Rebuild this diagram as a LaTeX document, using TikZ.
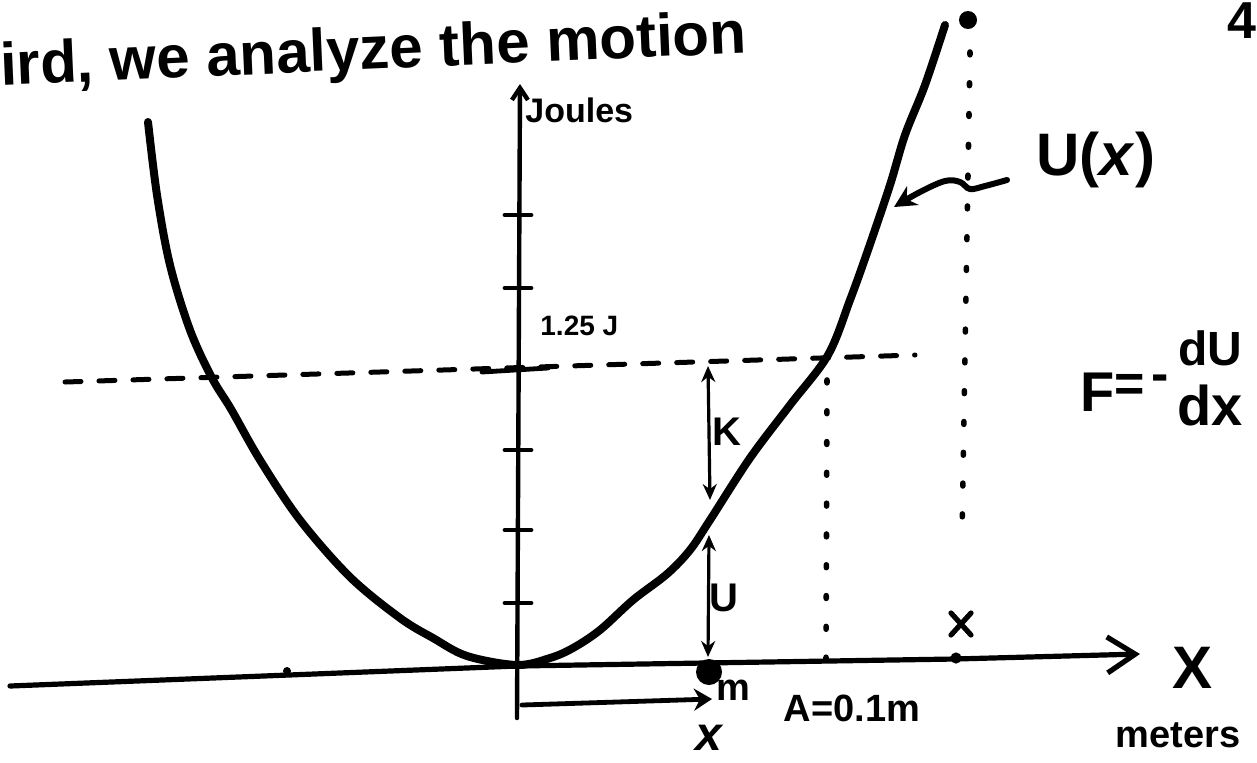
\documentclass[tikz,border=0pt]{standalone}
\usepackage{fontspec}
\setmainfont{Liberation Sans}
\usetikzlibrary{arrows.meta}
\begin{document}
\begin{tikzpicture}[x=0.5pt,y=-0.5pt,
  hand/.style={inner sep=0pt, font=\bfseries},
  fs/.style={font=\bfseries\fontsize{#1}{#1}\selectfont},
  curveline/.style={line width=4pt, line cap=round, line join=round},
  axisline/.style={line width=2.6pt, line cap=round, line join=round},
  tickline/.style={line width=2.4pt, line cap=round},
  dblarrow/.style={line width=1.6pt, {Stealth[length=8pt,width=7pt]}-{Stealth[length=8pt,width=7pt]}},
  dashline/.style={line width=2.5pt, dash pattern=on 8pt off 9pt, line cap=round},
  dotline/.style={line width=2.8pt, dash pattern=on 1.4pt off 14pt, line cap=round},
  massdot/.style={circle, fill=black, inner sep=0pt, minimum size=13pt}
]
\useasboundingbox (0,0) rectangle (1257,762);

% axes
\coordinate (hL) at (10,686);
\coordinate (O) at (517,666);
\coordinate (hM) at (955,659);
\coordinate (hR) at (1140,654);
\coordinate (vB) at (517,718);
\coordinate (vT) at (520,84);
\draw[axisline, -{Straight Barb[length=14pt,width=18pt]}] (hL) -- (O) -- (hM) -- (hR);
\draw[line width=2.2pt, line cap=round, -{Straight Barb[length=6pt,width=8pt]}] (vB) -- (vT);

% ticks
\foreach \y in {215,288,450,530,603}
  \draw[tickline] (505,\y) -- (531,\y);
\draw[tickline] (482,372) -- (548,368);

% dashed level line
\draw[dashline] (65,382) -- (915,355);

% potential curve
\draw[curveline] plot[smooth, tension=0.55] coordinates {
 (148,122) (157,195) (170,265) (190,330) (212,378) (231,409) (260,460)
 (300,520) (350,577) (400,618) (433,638) (467,656) (517,665) (550,658)
 (573,648) (600,630) (633,600) (667,574) (690,550) (710,520) (750,458)
 (790,405) (828,355) (850,300) (868,250) (890,185) (905,135) (925,85) (945,25)};

% K and U arrows
\coordinate (Ktop) at (708,366);
\coordinate (Kbot) at (710,500);
\coordinate (Utop) at (709,535);
\coordinate (Ubot) at (708,657);
\draw[dblarrow] (Kbot) -- (Ktop);
\draw[dblarrow] (Ubot) -- (Utop);
\node[hand, fs=20] (Klab) at (727,432) {K};
\node[hand, fs=20] (Ulab) at (724,598) {U};

% mass
\node[massdot] (mass) at (709,672) {};
\node[hand, fs=19] (mlab) at (733,690) {m};

% x arrow
\coordinate (xs) at (522,705);
\coordinate (xe) at (712,699);
\draw[line width=2.4pt, line cap=round, -{Stealth[length=9pt,width=11pt]}] (xs) -- (xe);
\node[hand, fs=24] (xlab) at (710,738) {\textit{x}};

% amplitude dotted line
\draw[dotline] (827,380) -- (826,660);
\node[hand, fs=19] (Alab) at (852,708) {A=0.1m};

% right dotted line
\fill (968,20) circle[radius=4.5pt];
\draw[dotline] (970,52) -- (962,535);

% cross and dot on axis
\draw[line width=2.6pt, line cap=round] (951,613) -- (971,635) (971,613) -- (951,635);
\fill (956,658) circle[radius=2.8pt];
\fill (287,671) circle[radius=2pt];

% labels
\node[hand, fs=30, anchor=west, rotate=2.5] (title) at (0,70) {ird, we analyze the motion};
\node[hand, fs=26, anchor=north east] (four) at (1257,2) {4};
\node[hand, fs=17, anchor=west] (joules) at (525,110) {Joules};
\node[hand, fs=14, anchor=west] (jval) at (540,326) {1.25 J};
\node[hand, fs=30] (Xlab) at (1192,668) {X};
\node[hand, fs=19] (meters) at (1178,735) {meters};

% U(x) label and pointer
\node[hand, fs=30, anchor=west] (Ux) at (1036,160) {U(\textit{x})};
\draw[line width=3pt, line cap=round, -{Stealth[length=11pt,width=11pt]}]
  plot[smooth, tension=0.6] coordinates {(1007,180) (985,186) (970,189) (960,182) (945,181) (920,192) (894,207)};

% force law
\node[hand, fs=28] (Flab) at (1098,392) {F};
\node[hand, fs=26] (eq) at (1130,388) {=};
\node[hand, fs=26] (minus) at (1160,383) {-};
\node[hand, fs=24] (num) at (1210,348) {dU};
\node[hand, fs=28] (den) at (1210,405) {dx};
\end{tikzpicture}
\end{document}
